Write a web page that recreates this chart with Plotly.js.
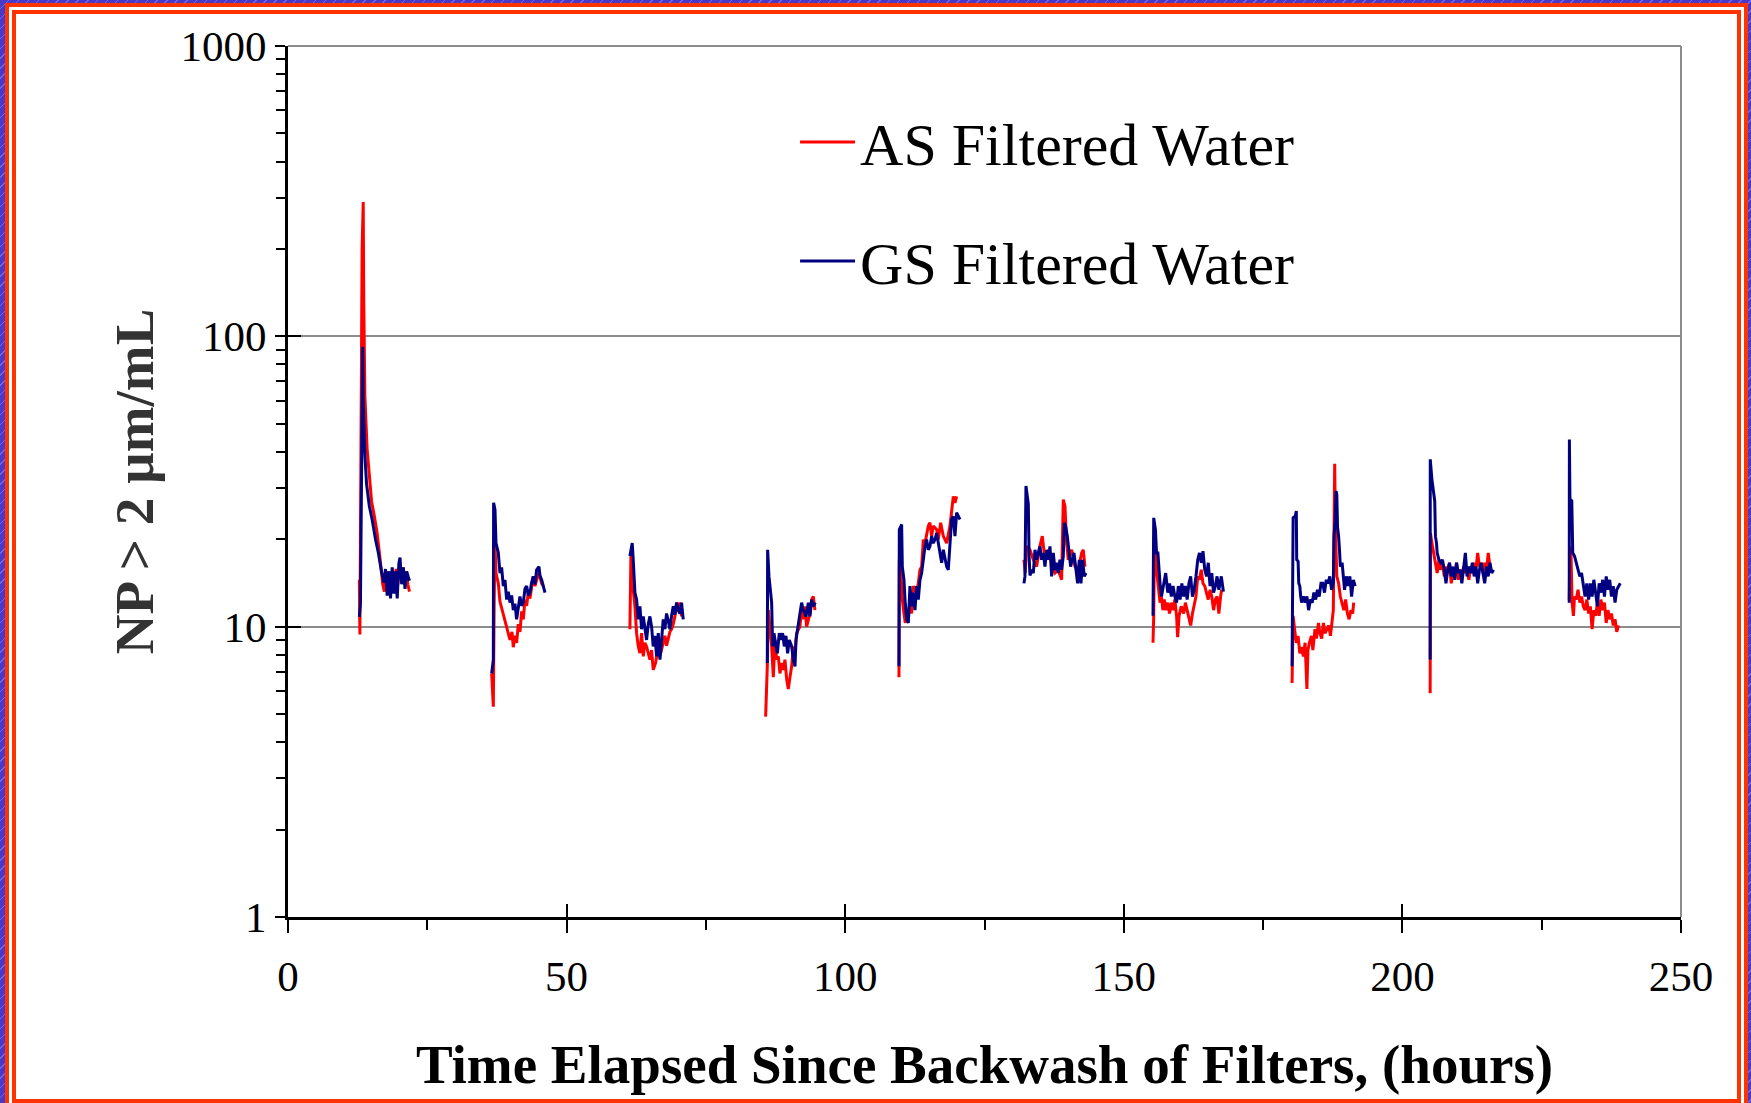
<!DOCTYPE html>
<html>
<head>
<meta charset="utf-8">
<script src="https://cdn.plot.ly/plotly-3.0.1.min.js"></script>
<style>
html,body{margin:0;padding:0;}
body{width:1751px;height:1103px;position:relative;overflow:hidden;
  background:#4a38c8 repeating-linear-gradient(135deg, rgba(255,255,255,0) 0 6px, rgba(170,160,255,0.45) 6px 7px);}
#frame1{position:absolute;left:5px;top:3px;width:1743px;height:1120px;box-sizing:border-box;border:4px solid #ff3300;background:#fff;}
#frame2{position:absolute;left:12px;top:10px;width:1729px;height:1093px;box-sizing:border-box;border:4px solid #ff3300;background:#fff;}
#chart{position:absolute;left:0;top:0;width:1751px;height:1103px;}
</style>
</head>
<body>
<div id="frame1"></div>
<div id="frame2"></div>
<div id="chart"></div>
<script>
// ---- Data: one inner array per filter run (hours since backwash, NP > 2 um per mL) ----
const asHours = [
  [12.8,12.9,13.3,13.5,13.6,13.8,14.2,14.6,15.0,15.5,16.0,16.6,17.0,17.3,17.6,17.9,18.2,18.5,18.8,19.1,19.4,19.7,20.0,20.3,20.6,20.9,21.2,21.5,21.8],
  [36.55,36.85,37.0,37.15,37.33,37.74,38.04,38.64,39.24,39.84,40.2,40.43,40.73,41.03,41.33,41.63,41.93,42.23,42.53,42.83,43.13,43.42,44.02,44.32,44.62,45.04,45.52,45.82],
  [61.36,61.42,61.54,61.96,62.26,62.56,62.86,63.16,63.46,63.76,64.05,64.35,64.65,64.95,65.25,65.55,65.97,66.45,66.75,67.05,67.34,67.64,67.94,68.24,68.54,68.84,69.14,69.44,69.74,70.03,70.33,70.63],
  [85.72,86.02,86.2,86.38,86.62,86.8,87.1,87.4,87.7,87.99,88.29,88.59,88.89,89.19,89.49,89.79,90.09,90.39,90.69,90.99,91.28,91.88,92.18,92.48,92.78,93.08,93.68,93.98,94.28,94.57],
  [109.65,109.71,109.95,110.25,110.55,110.79,111.03,111.33,111.62,111.92,112.22,112.82,113.12,113.42,113.72,114.02,114.32,114.61,114.91,115.21,115.51,115.81,116.41,116.71,117.13,117.61,118.2,118.8,119.1,119.4,119.7,120.0],
  [132.08,132.32,132.56,133.16,133.76,134.35,134.95,135.37,135.85,136.45,137.05,137.64,138.24,138.84,139.14,139.44,139.74,140.04,140.64,141.24,141.83,142.43,142.73,143.03],
  [155.24,155.37,155.49,155.75,156.0,156.25,156.5,156.76,157.01,157.26,157.58,157.89,158.21,158.53,158.84,159.16,159.47,159.66,159.92,160.3,160.74,161.05,161.37,161.69,162.0,162.32,162.63,162.95,163.27,163.58,163.9,164.21,164.53,164.85,165.16,165.48,165.79,166.11,166.43,166.74,167.06,167.37,167.56],
  [180.2,180.39,180.65,180.96,181.28,181.59,181.91,182.23,182.54,182.86,183.05,183.3,183.68,183.93,184.31,184.56,184.94,185.2,185.51,185.83,186.14,186.46,186.78,187.09,187.41,187.6,187.85,187.98,188.23,188.55,188.86,189.18,189.49,189.81,190.13,190.44,190.76,191.07,191.26],
  [204.98,205.04,205.3,205.61,205.93,206.24,206.56,206.87,207.19,207.51,207.82,208.14,208.45,208.77,209.09,209.4,209.72,210.03,210.35,210.67,210.98,211.3,211.61,211.93,212.25,212.56,212.88,213.19,213.51,213.83,214.14,214.46,214.77,215.09,215.41,215.72],
  [229.94,230.07,230.26,230.45,230.7,230.89,231.2,231.52,231.84,232.15,232.47,232.78,233.1,233.42,233.73,234.05,234.36,234.68,235.0,235.31,235.63,235.94,236.26,236.58,236.89,237.21,237.52,237.84,238.16,238.47,238.79]
];
const asCount = [
  [14.5,9.4,200,290,130,62,41,32,27,24,21,16.6,14,13.2,15.5,13,15.5,13.2,15,13.5,15.8,14,16.2,14.5,16,14.8,15.5,14,13.2],
  [6.9,5.3,12,19.4,15.3,14.1,12.2,11.1,10.0,9.0,9.6,8.5,9.3,8.8,10.2,9.6,11.3,10.6,12.4,11.8,13.1,12.5,14.9,13.8,14.5,15.3,14.1,13.8],
  [9.8,11.1,17.5,13.4,11.75,9.5,8.55,8.1,9.5,7.9,8.8,8.55,8.0,7.7,8.3,7.1,7.5,8.55,7.9,8.33,8.9,9.3,8.6,9.0,9.6,9.8,10.2,10.85,12.1,11.5,12.1,10.85],
  [4.9,7.3,11.4,10.6,9.5,8.55,6.7,9.0,7.7,7.9,6.9,7.5,7.1,7.7,6.6,6.1,6.7,7.3,8.55,8.1,9.5,10.0,11.75,10.6,11.75,10.0,11.1,12.4,12.7,11.4],
  [6.7,17.0,16.1,12.4,11.1,10.3,11.4,10.6,12.4,11.1,13.8,13.1,14.1,15.7,16.1,19.95,19.4,21.0,22.2,22.8,20.5,22.2,21.6,19.95,22.8,20.5,19.4,22.2,25.3,28.1,26.7,28.1],
  [17.0,15.3,18.9,18.4,17.0,16.1,18.9,20.5,17.0,18.4,16.6,15.3,15.7,14.5,27.4,26.0,19.4,17.0,18.4,16.1,15.7,17.95,18.4,16.1],
  [8.8,10.9,17.95,17.5,14.9,13.4,12.1,12.7,11.4,12.4,11.4,12.1,11.1,12.1,11.4,12.4,10.9,9.2,10.9,11.75,11.1,12.1,11.4,10.9,10.1,11.1,11.75,12.7,14.9,14.5,15.7,14.1,13.8,13.1,12.4,13.4,12.7,11.4,12.4,12.7,11.1,12.7,13.4],
  [6.4,10.9,9.8,8.8,9.3,8.1,8.5,7.9,8.8,6.1,8.3,8.8,9.3,8.3,9.8,9.1,10.3,9.5,9.1,10.3,9.5,9.8,10.1,9.3,10.3,11.4,36.4,21.6,14.9,14.1,12.7,12.1,11.4,12.4,11.1,10.6,11.4,11.1,12.1],
  [5.9,21.0,19.4,17.95,16.6,15.3,17.0,15.7,16.6,14.9,16.1,15.3,16.6,14.1,15.7,14.9,16.6,14.5,15.7,14.9,16.1,15.3,15.7,14.5,16.1,15.3,16.6,15.7,17.95,16.1,16.6,15.3,16.6,15.7,17.95,16.1],
  [12.3,18.9,17.95,12.1,10.9,12.7,12.4,13.4,12.1,12.7,11.75,11.4,12.4,11.1,11.75,9.8,11.4,10.9,12.1,10.9,12.4,11.4,12.1,10.3,11.4,10.6,11.1,10.1,10.6,9.6,10.1]
];
const gsHours = [
  [12.8,12.9,13.0,13.4,13.5,13.8,14.1,14.6,15.1,15.7,16.2,16.8,17.2,17.5,17.8,18.1,18.4,18.7,19.0,19.3,19.6,19.9,20.1,20.4,20.7,21.0,21.3,21.6,21.8],
  [36.55,36.85,36.9,37.15,37.33,37.74,38.04,38.34,38.64,38.94,39.24,39.54,39.84,40.14,40.43,40.73,41.03,41.33,41.63,41.93,42.23,42.53,42.83,43.13,43.42,43.72,44.02,44.32,44.62,45.04,45.22,45.52,45.82,46.12],
  [61.36,61.78,61.96,62.26,62.56,62.86,63.16,63.46,63.76,64.05,64.35,64.65,64.95,65.25,65.55,65.85,66.15,66.45,66.75,67.05,67.34,67.64,67.94,68.24,68.54,68.84,69.14,69.44,69.74,70.03,70.33,70.63,70.93],
  [86.02,86.08,86.32,86.62,86.8,86.98,87.22,87.58,87.82,88.17,88.41,88.77,89.07,89.37,89.67,89.97,90.39,90.69,90.99,91.17,91.58,91.88,92.18,92.48,92.96,93.38,93.68,93.98,94.28,94.63],
  [109.65,109.71,110.0,110.13,110.25,110.55,110.73,111.03,111.33,111.62,111.92,112.22,112.52,112.82,113.12,113.42,113.72,114.02,114.32,114.61,114.91,115.21,115.51,115.81,116.11,116.41,116.71,117.01,117.31,117.61,117.9,118.2,118.5,118.8,119.1,119.4,119.7,120.0,120.6],
  [132.08,132.26,132.44,132.68,132.86,133.0,133.16,133.46,133.76,134.06,134.35,134.65,134.95,135.25,135.55,135.85,136.15,136.45,136.75,137.05,137.35,137.64,137.94,138.24,138.54,138.84,139.14,139.32,139.56,139.86,140.16,140.46,140.76,141.06,141.42,141.71,142.01,142.31,142.61,142.91,143.21],
  [155.24,155.37,155.68,155.87,156.12,156.31,156.5,156.76,157.14,157.52,157.89,158.21,158.53,158.84,159.16,159.47,159.79,160.1,160.42,160.74,161.05,161.37,161.69,162.0,162.32,162.63,162.95,163.27,163.58,163.9,164.21,164.53,164.85,165.16,165.48,165.79,166.11,166.43,166.74,167.06,167.5,167.88],
  [180.2,180.39,180.77,180.96,181.03,181.28,181.4,181.59,181.75,181.91,182.23,182.54,182.86,183.17,183.49,183.81,184.12,184.44,184.75,185.07,185.39,185.7,186.02,186.33,186.65,186.97,187.28,187.6,187.72,187.91,188.1,188.23,188.36,188.55,188.74,188.86,189.18,189.37,189.62,189.94,190.26,190.57,190.88,191.2,191.52],
  [204.98,205.0,205.3,205.61,205.8,205.93,206.12,206.24,206.56,206.87,207.19,207.51,207.82,208.14,208.45,208.77,209.09,209.4,209.72,210.03,210.35,210.67,210.98,211.3,211.61,211.93,212.25,212.56,212.88,213.19,213.51,213.83,214.14,214.46,214.77,215.09,215.41,215.72,216.04,216.35],
  [229.94,229.97,230.07,230.4,230.5,230.57,230.89,231.2,231.52,231.84,232.15,232.47,232.78,233.1,233.42,233.73,234.05,234.36,234.68,235.0,235.31,235.63,235.94,236.26,236.58,236.89,237.21,237.52,237.84,238.16,238.47,238.79,239.1]
];
const gsCount = [
  [10.8,11.8,12,92,60,39,31,26,23.4,20,18,15.4,14.2,15.8,12.8,15.5,12.5,16,13,15.5,12.5,16.5,17.3,14,16,13.5,15.5,14.8,14.4],
  [6.9,7.7,26.7,25.3,19.4,18.0,15.3,16.0,13.8,14.5,12.4,13.2,12.1,12.8,11.4,12.0,10.6,11.5,12.7,11.8,12.1,13.5,13.8,12.8,13.1,14.2,14.9,14.0,15.7,16.1,15.0,14.5,13.6,13.1],
  [17.5,19.4,17.0,13.1,12.4,10.6,11.75,9.8,10.85,9.9,9.0,10.2,10.85,10.0,8.55,9.3,7.9,9.5,7.7,9.0,10.6,9.8,11.1,10.5,9.8,10.9,11.75,11.0,12.1,11.4,11.1,12.1,10.6],
  [7.5,18.4,14.9,13.1,12.1,8.55,9.5,8.55,8.1,9.5,9.0,9.5,8.55,9.3,8.1,9.0,8.55,7.7,7.3,9.0,10.0,11.1,12.1,11.4,10.85,12.1,10.85,12.4,11.75,12.1],
  [7.3,21.6,22.2,22.5,16.1,14.5,12.4,10.6,10.3,13.8,11.75,13.1,11.4,13.8,12.4,14.5,15.3,17.0,18.9,19.95,18.4,18.9,20.5,19.4,19.95,21.0,19.4,17.95,16.6,18.4,17.0,16.1,15.7,19.95,23.4,24.0,20.5,24.7,23.4],
  [14.1,14.9,30.5,27.4,26.5,17.5,15.0,15.7,15.3,18.4,17.0,17.95,18.9,17.0,17.95,16.1,18.4,17.0,18.9,14.9,17.95,15.7,16.6,15.3,17.0,15.7,17.5,22.8,22.2,20.5,17.95,16.1,17.0,17.95,15.7,14.1,17.0,14.1,17.0,14.9,15.3],
  [10.9,23.7,21.6,17.95,17.95,15.7,14.1,12.7,14.1,15.3,13.1,14.1,12.7,13.8,12.7,12.1,13.8,12.4,14.1,12.7,13.8,12.4,14.1,14.9,12.7,13.4,14.9,17.0,17.95,16.6,18.2,15.7,14.9,16.6,13.8,15.3,13.1,13.8,14.9,13.4,14.9,13.2],
  [7.3,23.7,24.0,25.0,17.0,16.8,14.1,13.8,12.7,12.1,12.7,12.1,12.7,11.4,12.4,12.1,13.1,12.4,13.4,12.7,14.1,14.1,13.1,14.5,14.1,14.9,13.4,14.1,20.5,23.0,29.3,28.5,22.0,20.5,17.95,16.1,16.6,14.9,13.4,14.9,13.8,14.9,12.7,14.5,13.8],
  [7.7,37.7,32.1,29.3,27.1,20.5,19.4,17.95,17.0,16.6,17.0,15.7,14.1,15.7,16.6,14.9,16.1,14.5,16.6,15.3,15.7,14.1,15.7,17.95,14.9,16.1,15.3,16.6,14.9,16.1,14.1,15.7,16.6,15.3,14.1,16.1,14.9,16.6,15.3,15.7],
  [12.1,44.1,27.5,27.1,18.9,17.95,17.5,16.6,15.7,14.9,15.3,14.1,12.7,14.1,12.4,14.1,12.7,14.5,13.1,11.75,14.1,13.1,14.5,12.7,14.9,13.4,14.5,12.7,13.8,12.1,13.4,13.8,14.1]
];
const seriesNames = ['AS Filtered Water', 'GS Filtered Water'];
const xTickVals = [0, 50, 100, 150, 200, 250];
const xMinorVals = [25, 75, 125, 175, 225];
const yTickVals = [1, 10, 100, 1000];
const yTickText = ['1', '10', '100', '1000'];
const yMinorVals = [2,3,4,5,6,7,8,9,20,30,40,50,60,70,80,90,200,300,400,500,600,700,800,900];

// join runs with gaps so each run is its own line piece
function joinRuns(runs) {
  const out = [];
  runs.forEach((r, i) => { if (i) out.push(null); out.push(...r); });
  return out;
}

const FONT = '"Liberation Serif", "Times New Roman", Times, serif';

const traces = [
  {x: joinRuns(asHours), y: joinRuns(asCount), name: seriesNames[0], legendgroup: 'as',
   type: 'scatter', mode: 'lines', connectgaps: false, line: {color: '#ff0000', width: 3}},
  {x: joinRuns(gsHours), y: joinRuns(gsCount), name: seriesNames[1], legendgroup: 'gs',
   type: 'scatter', mode: 'lines', connectgaps: false, line: {color: '#000080', width: 3}},
  {x: [], y: [], xaxis: 'x2', yaxis: 'y2', showlegend: false, hoverinfo: 'skip', type: 'scatter', mode: 'lines'}
];

const layout = {
  width: 1751, height: 1103,
  margin: {l: 288, r: 70, t: 46, b: 186, pad: 0},
  paper_bgcolor: 'rgba(0,0,0,0)', plot_bgcolor: '#ffffff',
  font: {family: FONT, color: '#000000'},
  showlegend: true,
  legend: {x: 0.364, y: 0.942, xanchor: 'left', yanchor: 'top', bgcolor: 'rgba(0,0,0,0)',
    font: {family: FONT, size: 60, color: '#000000'}, itemwidth: 55, tracegroupgap: 38, traceorder: 'grouped'},
  xaxis: {range: [0, 250], tickmode: 'array', tickvals: xTickVals, ticks: 'outside', ticklen: 13, tickwidth: 2,
    tickcolor: '#000', showline: true, linecolor: '#000', linewidth: 3, showgrid: false, zeroline: false,
    tickfont: {family: FONT, size: 43, color: '#000'}, ticklabelstandoff: 6,
    minor: {tickmode: 'array', tickvals: xMinorVals, ticks: 'outside', ticklen: 10, tickwidth: 2, tickcolor: '#000', showgrid: false},
    title: {text: '<b>Time Elapsed Since Backwash of Filters, (hours)</b>', font: {family: FONT, size: 55, color: '#000'}, standoff: 46}},
  yaxis: {type: 'log', range: [0, 3], tickmode: 'array', tickvals: yTickVals, ticktext: yTickText, ticks: 'outside',
    ticklen: 10, tickwidth: 2, tickcolor: '#000', showline: true, linecolor: '#000', linewidth: 3,
    showgrid: true, gridcolor: '#8c8c8c', gridwidth: 2, zeroline: false,
    tickfont: {family: FONT, size: 43, color: '#000'},
    minor: {tickmode: 'array', tickvals: yMinorVals, ticks: 'outside', ticklen: 9, tickwidth: 2, tickcolor: '#000', showgrid: false},
    title: {text: '<b>NP > 2 µm/mL</b>', font: {family: FONT, size: 55, color: '#333333'}, standoff: 10}},
  xaxis2: {overlaying: 'x', anchor: 'y', side: 'bottom', range: [0, 250], tickmode: 'array', tickvals: xTickVals,
    ticks: 'inside', ticklen: 13, tickwidth: 2, tickcolor: '#000', showticklabels: false, showgrid: false,
    zeroline: false, showline: false},
  yaxis2: {overlaying: 'y', anchor: 'x', side: 'left', type: 'log', range: [0, 3], tickmode: 'array', tickvals: yTickVals,
    ticks: 'inside', ticklen: 13, tickwidth: 2, tickcolor: '#000', showticklabels: false, showgrid: false,
    zeroline: false, showline: false},
  shapes: [
    {type: 'line', xref: 'paper', yref: 'paper', x0: 0, x1: 1, y0: 1, y1: 1, line: {color: '#8c8c8c', width: 2}},
    {type: 'line', xref: 'paper', yref: 'paper', x0: 1, x1: 1, y0: 0, y1: 1, line: {color: '#8c8c8c', width: 2}}
  ]
};

Plotly.newPlot('chart', traces, layout, {displayModeBar: false, staticPlot: true});
</script>
</body>
</html>
